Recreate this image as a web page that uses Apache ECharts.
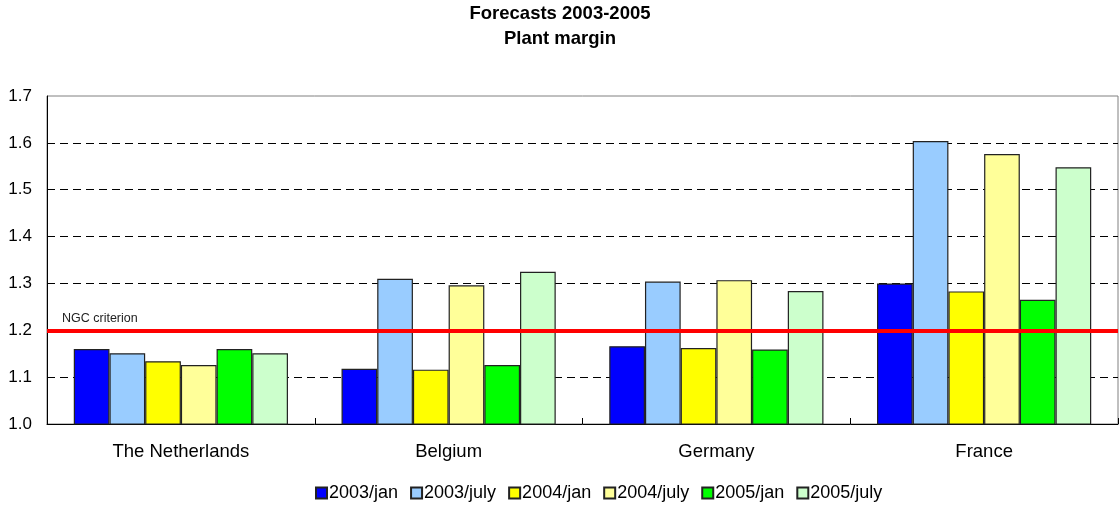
<!DOCTYPE html>
<html>
<head>
<meta charset="utf-8">
<script src="https://cdn.jsdelivr.net/npm/echarts@6/dist/echarts.min.js"></script>
<style>
  html, body { margin: 0; padding: 0; background: #fff; }
  #chart { width: 1120px; height: 508px; }
</style>
</head>
<body>
<div id="chart"></div>
<script>
// categories and series
const countries = ['The Netherlands', 'Belgium', 'Germany', 'France'];
const seriesNames = ['2003/jan', '2003/july', '2004/jan', '2004/july', '2005/jan', '2005/july'];
const colors = ['#0000ff', '#99ccff', '#ffff00', '#ffff99', '#00ff00', '#ccffcc'];

const jan2003 = [1.160, 1.118, 1.166, 1.300];
const july2003 = [1.151, 1.310, 1.304, 1.604];
const jan2004 = [1.134, 1.116, 1.162, 1.283];
const july2004 = [1.126, 1.296, 1.307, 1.576];
const jan2005 = [1.160, 1.126, 1.159, 1.265];
const july2005 = [1.151, 1.325, 1.284, 1.548];

const ngcCriterion = 1.197;

const allValues = [jan2003, july2003, jan2004, july2004, jan2005, july2005];

let chart = echarts.init(document.getElementById('chart'));

let series = seriesNames.map((name, i) => ({
  name: name,
  type: 'bar',
  data: allValues[i],
  barGap: '0%',
  barCategoryGap: '20%',
  itemStyle: {
    color: colors[i],
    borderColor: '#222',
    borderWidth: 1.2
  }
}));

// NGC criterion line hangs off the first series
series[0].markLine = {
  silent: true,
  symbol: 'none',
  lineStyle: { color: '#ff0000', width: 4, type: 'solid' },
  label: {
    show: true,
    position: 'insideStartTop',
    formatter: 'NGC criterion',
    color: '#222',
    fontSize: 12.5,
    fontFamily: 'Liberation Sans',
    distance: [15, 5]
  },
  data: [{ yAxis: ngcCriterion }]
};

chart.setOption({
  animation: false,
  textStyle: { fontFamily: 'Liberation Sans' },
  title: {
    text: 'Forecasts 2003-2005\nPlant margin',
    left: 'center',
    top: 1,
    padding: 0,
    textStyle: {
      fontSize: 18.5,
      fontWeight: 'bold',
      color: '#000',
      lineHeight: 25,
      fontFamily: 'Liberation Sans'
    }
  },
  legend: {
    top: 479,
    left: 310,
    icon: 'rect',
    itemWidth: 11,
    itemHeight: 11,
    itemGap: 12,
    textStyle: { fontSize: 18, color: '#000', padding: [0, 0, 0, -3] },
    data: seriesNames
  },
  grid: {
    left: 47,
    right: 2,
    top: 96,
    bottom: 84,
    show: true,
    borderColor: '#808080',
    borderWidth: 1
  },
  xAxis: {
    type: 'category',
    data: countries,
    axisLine: { lineStyle: { color: '#000', width: 1 } },
    axisTick: { show: true, inside: true, length: 6, lineStyle: { color: '#000' } },
    axisLabel: { fontSize: 18.5, color: '#000', margin: 18 }
  },
  yAxis: {
    type: 'value',
    min: 1.0,
    max: 1.7,
    interval: 0.1,
    axisLine: { show: true, lineStyle: { color: '#000', width: 1 } },
    axisTick: { show: false },
    axisLabel: {
      fontSize: 17,
      color: '#000',
      margin: 15,
      formatter: v => v.toFixed(1)
    },
    splitLine: {
      show: true,
      showMinLine: false,
      showMaxLine: false,
      lineStyle: { color: '#000', type: [8, 5], width: 1 }
    }
  },
  series: series
});
</script>
</body>
</html>
